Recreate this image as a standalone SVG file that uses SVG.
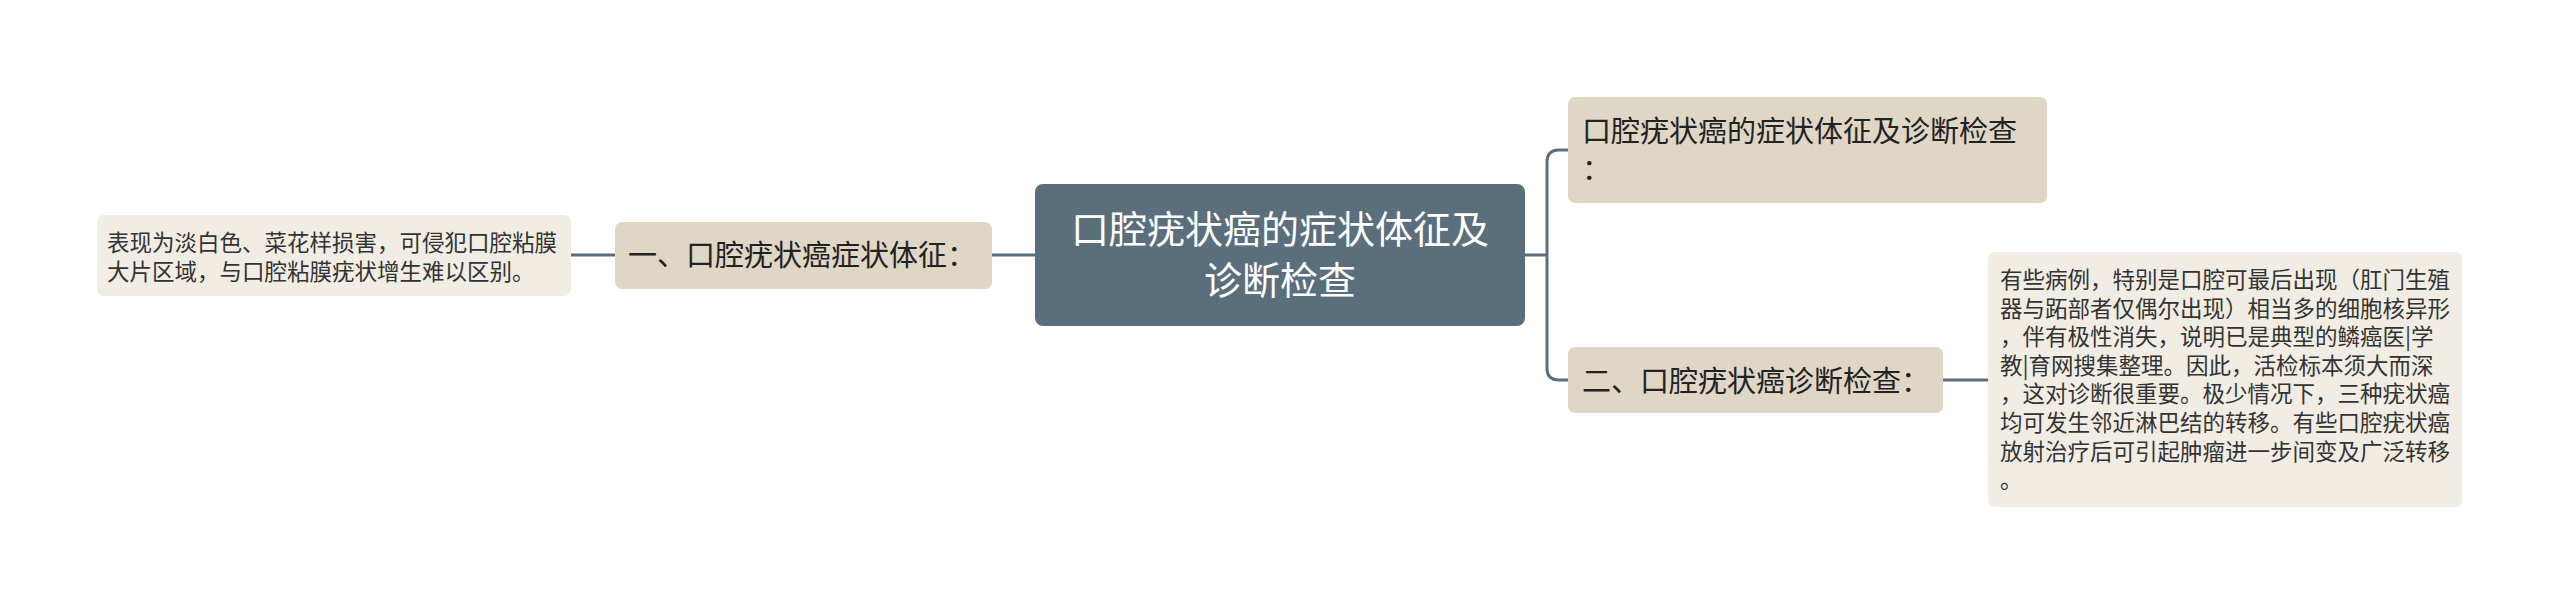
<svg xmlns="http://www.w3.org/2000/svg" width="2560" height="605" viewBox="0 0 2560 605">
<style>
.t{font-family:"Noto Sans CJK SC","Noto Sans",sans-serif}
.root{fill:#5b6e7b}
.sub{fill:#e0d6c6}
.leaf{fill:#f1ede5}
.lk{fill:none;stroke:#5b6e7b;stroke-width:3}
.rt{fill:#ffffff;font-size:38px}
.st{fill:#222222;font-size:29px}
.lt{fill:#333333;font-size:22.5px}
</style>
<rect width="2560" height="605" fill="#ffffff"/>
<g id="connectors">
<path class="lk" d="M571,255 H615"/>
<path class="lk" d="M992,255 H1035"/>
<path class="lk" d="M1525,255 H1547"/>
<path class="lk" d="M1568,150 H1559 Q1547,150 1547,162 V368 Q1547,380 1559,380 H1568"/>
<path class="lk" d="M1943,380 H1988"/>
</g>
<g id="root">
<rect class="root" x="1035" y="184" width="490" height="142" rx="8"/>
<text class="t rt" x="1280" y="243" text-anchor="middle">口腔疣状癌的症状体征及</text>
<text class="t rt" x="1280" y="294" text-anchor="middle">诊断检查</text>
</g>
<g id="n1">
<rect class="sub" x="615" y="222" width="377" height="67" rx="7"/>
<text class="t st" x="628" y="266">一、口腔疣状癌症状体征：</text>
</g>
<g id="n1a">
<rect class="leaf" x="97" y="215" width="474" height="81" rx="7"/>
<text class="t lt" x="107" y="251">表现为淡白色、菜花样损害，可侵犯口腔粘膜</text>
<text class="t lt" x="107" y="280">大片区域，与口腔粘膜疣状增生难以区别。</text>
</g>
<g id="n2">
<rect class="sub" x="1568" y="97" width="479" height="106" rx="7"/>
<text class="t st" x="1582" y="142">口腔疣状癌的症状体征及诊断检查</text>
<text class="t st" x="1582" y="180">：</text>
</g>
<g id="n3">
<rect class="sub" x="1568" y="347" width="375" height="66" rx="7"/>
<text class="t st" x="1582" y="392">二、口腔疣状癌诊断检查：</text>
</g>
<g id="n3a">
<rect class="leaf" x="1988" y="252" width="474" height="255" rx="7"/>
<text class="t lt" x="2000" y="288">有些病例，特别是口腔可最后出现（肛门生殖</text>
<text class="t lt" x="2000" y="316.6">器与跖部者仅偶尔出现）相当多的细胞核异形</text>
<text class="t lt" x="2000" y="345.2">，伴有极性消失，说明已是典型的鳞癌医|学</text>
<text class="t lt" x="2000" y="373.8">教|育网搜集整理。因此，活检标本须大而深</text>
<text class="t lt" x="2000" y="402.4">，这对诊断很重要。极少情况下，三种疣状癌</text>
<text class="t lt" x="2000" y="431">均可发生邻近淋巴结的转移。有些口腔疣状癌</text>
<text class="t lt" x="2000" y="459.6">放射治疗后可引起肿瘤进一步间变及广泛转移</text>
<text class="t lt" x="2000" y="488.2">。</text>
</g>
</svg>
